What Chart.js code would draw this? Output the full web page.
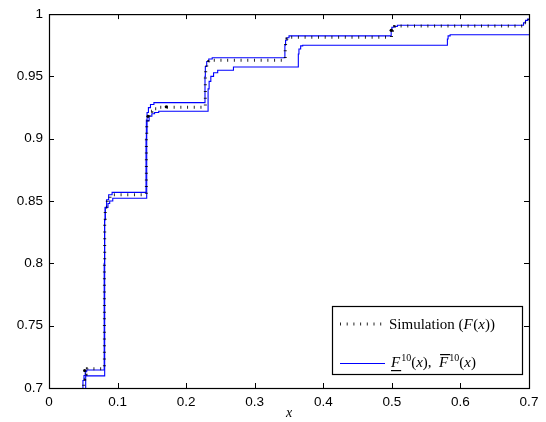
<!DOCTYPE html>
<html><head><meta charset="utf-8">
<script src="https://cdn.jsdelivr.net/npm/chart.js@4"></script>
<style>html,body{margin:0;padding:0;background:#fff;} canvas{display:block;}</style>
</head><body>
<canvas id="c" width="546" height="422"></canvas>
<script>
const xTicks = [0, 0.1, 0.2, 0.3, 0.4, 0.5, 0.6, 0.7];
const yTicks = [0.7, 0.75, 0.8, 0.85, 0.9, 0.95, 1];

// Simulation F(x)
const simX = [0.050, 0.0505, 0.052, 0.054, 0.056, 0.0808, 0.0812, 0.082, 0.085, 0.089, 0.093, 0.142, 0.1425, 0.144, 0.146, 0.150, 0.157, 0.228, 0.2285, 0.230, 0.233, 0.238, 0.3445, 0.345, 0.347, 0.350, 0.4995, 0.501, 0.504, 0.508, 0.692, 0.696, 0.700];
const simY = [0.600, 0.707, 0.711, 0.714, 0.7155, 0.800, 0.835, 0.845, 0.851, 0.854, 0.855, 0.900, 0.912, 0.918, 0.922, 0.924, 0.9253, 0.950, 0.957, 0.960, 0.962, 0.963, 0.975, 0.978, 0.980, 0.9815, 0.987, 0.989, 0.990, 0.9905, 0.993, 0.995, 0.996];

// Upper bound
const upperX = [0.049, 0.0495, 0.051, 0.053, 0.055, 0.0805, 0.081, 0.082, 0.084, 0.087, 0.092, 0.1415, 0.142, 0.143, 0.145, 0.148, 0.153, 0.2275, 0.228, 0.230, 0.233, 0.238, 0.344, 0.345, 0.347, 0.350, 0.499, 0.500, 0.503, 0.508, 0.692, 0.695, 0.698, 0.700];
const upperY = [0.600, 0.706, 0.710, 0.713, 0.7145, 0.800, 0.835, 0.845, 0.851, 0.855, 0.857, 0.900, 0.915, 0.921, 0.925, 0.9275, 0.929, 0.950, 0.958, 0.962, 0.964, 0.965, 0.975, 0.979, 0.981, 0.9825, 0.987, 0.9895, 0.990, 0.991, 0.993, 0.995, 0.996, 0.996];

// Lower bound
const lowerX = [0.053, 0.0535, 0.0812, 0.082, 0.086, 0.0885, 0.093, 0.1425, 0.143, 0.146, 0.150, 0.154, 0.160, 0.232, 0.2335, 0.236, 0.240, 0.246, 0.269, 0.3636, 0.3645, 0.367, 0.370, 0.581, 0.582, 0.585, 0.700];
const lowerY = [0.600, 0.7097, 0.835, 0.8448, 0.848, 0.850, 0.8522, 0.905, 0.9145, 0.918, 0.920, 0.921, 0.922, 0.940, 0.946, 0.950, 0.953, 0.955, 0.9575, 0.968, 0.972, 0.9745, 0.975, 0.980, 0.9825, 0.9834, 0.9834];

// stray markers on the simulation curve
const dotX = [0.052, 0.1444, 0.171, 0.499];
const dotY = [0.714, 0.918, 0.9256, 0.987];

const pts = (xs, ys) => xs.map((x, i) => ({x, y: ys[i]}));

const frame = {
  id: 'frame',
  afterDraw(chart) {
    const ctx = chart.ctx, a = chart.chartArea;
    const xs = chart.scales.x, ys = chart.scales.y;
    ctx.save();
    ctx.strokeStyle = '#000';
    ctx.lineWidth = 1.2;
    ctx.strokeRect(a.left + 0.5, a.top + 0.5, a.right - a.left, a.bottom - a.top);
    ctx.lineWidth = 1;
    ctx.beginPath();
    xTicks.forEach(v => {
      const p = Math.round(xs.getPixelForValue(v)) + 0.5;
      ctx.moveTo(p, a.bottom); ctx.lineTo(p, a.bottom - 5);
      ctx.moveTo(p, a.top); ctx.lineTo(p, a.top + 5);
    });
    yTicks.forEach(v => {
      const p = Math.round(ys.getPixelForValue(v)) + 0.5;
      ctx.moveTo(a.left, p); ctx.lineTo(a.left + 5, p);
      ctx.moveTo(a.right, p); ctx.lineTo(a.right - 5, p);
    });
    ctx.stroke();

    // x title
    ctx.fillStyle = '#000';
    ctx.font = 'italic 14px "Liberation Serif"';
    ctx.textAlign = 'center';
    ctx.textBaseline = 'alphabetic';
    ctx.fillText('x', (a.left + a.right) / 2, 417);

    // legend
    const bw = 190, bh = 68;
    const bx = a.right - 7 - bw, by = a.bottom - 14 - bh;
    ctx.fillStyle = '#fff';
    ctx.fillRect(bx, by, bw, bh);
    ctx.lineWidth = 1.2;
    ctx.strokeStyle = '#000';
    ctx.strokeRect(bx + 0.5, by + 0.5, bw, bh);

    const r1 = by + 18, r2 = by + 57;
    ctx.save();
    ctx.setLineDash([1, 5.7]);
    ctx.lineWidth = 3;
    ctx.strokeStyle = 'rgba(0,0,0,0.85)';
    ctx.beginPath();
    ctx.moveTo(bx + 8, r1); ctx.lineTo(bx + 52, r1);
    ctx.stroke();
    ctx.restore();
    ctx.save();
    ctx.strokeStyle = '#0000ff';
    ctx.lineWidth = 1.1;
    ctx.beginPath();
    ctx.moveTo(bx + 8, r2 + 0.5); ctx.lineTo(bx + 53, r2 + 0.5);
    ctx.stroke();
    ctx.restore();

    ctx.fillStyle = '#000';
    ctx.textAlign = 'left';
    const rom = '15px "Liberation Serif"', ita = 'italic 15px "Liberation Serif"', sup = '10px "Liberation Serif"';
    const draw = (parts, x, y) => {
      parts.forEach(p => {
        ctx.font = p[1];
        const dy = p[2] || 0;
        ctx.fillText(p[0], x, y + dy);
        const w = ctx.measureText(p[0]).width;
        if (p[3] === 'under') { ctx.fillRect(x, y + 3, w + 1, 1.2); }
        if (p[3] === 'over') { ctx.fillRect(x + 1, y - 13, w + 1, 1.2); }
        x += w + (p[4] || 0);
      });
    };
    draw([['Simulation (', rom], ['F', ita, 0, null, 0.5], ['(', rom], ['x', ita], ['))', rom]], bx + 57, r1 + 5);
    draw([['F', ita, 0, 'under', 1], ['10', sup, -6], ['(', rom], ['x', ita], ['),  ', rom], ['F', ita, 0, 'over', 1], ['10', sup, -6], ['(', rom], ['x', ita], [')', rom]], bx + 59, r2 + 4);
    ctx.restore();
  }
};

new Chart(document.getElementById('c'), {
  type: 'line',
  data: {
    datasets: [
      { label: 'Simulation (F(x))', data: pts(simX, simY), stepped: 'before', borderColor: 'rgba(0,0,0,0.85)', borderWidth: 3, borderDash: [1, 5.7], borderCapStyle: 'butt', pointRadius: 0, fill: false },
      { label: 'markers', data: pts(dotX, dotY), showLine: false, pointRadius: 1.6, pointBackgroundColor: '#000', pointBorderWidth: 0 },
      { label: 'upper', data: pts(upperX, upperY), stepped: 'before', borderColor: '#0000ff', borderWidth: 1.1, pointRadius: 0, fill: false },
      { label: 'lower', data: pts(lowerX, lowerY), stepped: 'before', borderColor: '#0000ff', borderWidth: 1.1, pointRadius: 0, fill: false }
    ]
  },
  options: {
    responsive: false,
    animation: false,
    layout: { padding: { left: 0, top: 9, right: 17, bottom: 0 } },
    plugins: { legend: { display: false }, tooltip: { enabled: false } },
    scales: {
      x: {
        type: 'linear', min: 0, max: 0.7,
        afterBuildTicks: s => { s.ticks = xTicks.map(v => ({value: v})); },
        afterFit: s => { s.height = 34; },
        grid: { display: false, drawTicks: false },
        border: { display: false },
        ticks: { autoSkip: false, maxRotation: 0, padding: 6, color: '#000', font: { family: '"Liberation Sans", Arial', size: 13.5 }, callback: v => String(v) }
      },
      y: {
        type: 'linear', min: 0.7, max: 1,
        afterBuildTicks: s => { s.ticks = yTicks.map(v => ({value: v})); },
        afterFit: s => { s.width = 49; },
        grid: { display: false, drawTicks: false },
        border: { display: false },
        ticks: { autoSkip: false, padding: 6, color: '#000', font: { family: '"Liberation Sans", Arial', size: 13.5 }, callback: v => String(v) }
      }
    }
  },
  plugins: [frame]
});
</script>
</body></html>
